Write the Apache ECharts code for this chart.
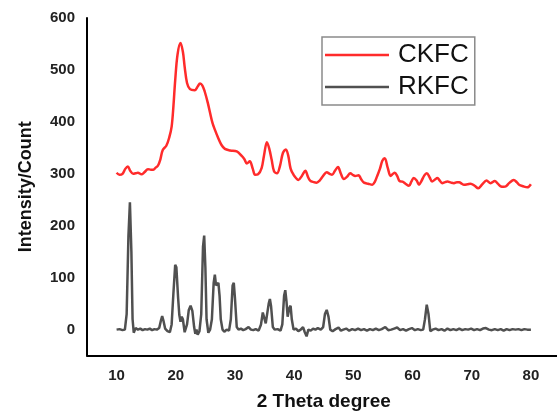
<!DOCTYPE html>
<html><head><meta charset="utf-8">
<script src="https://cdn.jsdelivr.net/npm/echarts@6/dist/echarts.min.js"></script>
<style>html,body{margin:0;padding:0;background:#fff}#c{width:557px;height:414px}</style>
</head><body><div id="c"></div>
<script>
const ckfcTheta = [10.0,10.5,11.0,11.5,11.9,12.3,12.8,13.2,13.6,14.2,14.7,15.3,15.8,16.2,16.6,17.0,17.4,17.8,18.4,18.9,19.3,19.6,19.9,20.3,20.8,21.2,21.5,21.9,22.4,23.2,23.7,24.1,24.5,24.9,25.4,25.8,26.2,26.6,27.2,27.7,28.3,29.2,30.3,31.1,31.6,32.0,32.5,33.0,33.4,33.9,34.5,34.9,35.4,35.8,36.2,36.6,37.1,37.6,38.1,38.6,39.0,39.4,39.9,40.3,40.7,41.3,41.9,42.3,42.7,43.3,43.8,44.3,44.9,45.5,46.0,46.4,46.9,47.4,47.9,48.4,48.9,49.5,49.9,50.3,50.9,51.3,51.8,52.5,53.2,53.6,54.0,54.5,54.9,55.3,55.8,56.3,56.7,57.0,57.4,57.8,58.3,58.8,59.4,59.8,60.2,60.7,61.1,61.5,62.0,62.4,62.9,63.3,63.8,64.2,64.6,65.0,65.5,65.9,66.5,67.0,67.5,67.9,68.3,68.7,69.3,69.8,70.5,71.1,71.8,72.5,73.2,73.9,74.4,74.9,75.4,75.8,76.4,77.1,77.6,78.0,78.7,79.4,80.0];
const ckfcCount = [302,298,300,310,314,306,300,301,302,299,303,309,308,308,312,316,328,346,354,370,391,430,480,530,552,535,506,475,463,461,468,474,470,458,437,417,398,385,368,356,348,345,343,335,328,320,324,310,298,299,311,335,361,348,327,305,301,315,340,347,335,310,298,292,288,296,306,295,287,284,283,287,296,303,300,298,306,313,300,290,294,301,298,296,297,290,283,281,279,284,295,310,325,330,312,296,300,302,296,286,285,281,277,285,292,287,279,286,297,301,293,285,289,292,287,282,284,285,283,282,284,284,281,279,280,281,277,272,280,287,282,286,281,276,275,276,283,288,284,279,276,274,280];

const rkfcTheta = [10.0,10.5,11.0,11.4,11.7,12.0,12.25,12.5,12.7,12.9,13.2,13.6,14.0,14.4,14.8,15.2,15.6,16.0,16.4,16.8,17.2,17.5,17.7,17.9,18.2,18.6,19.0,19.3,19.6,19.9,20.1,20.4,20.6,20.8,21.0,21.2,21.5,21.7,21.9,22.2,22.5,22.8,23.1,23.3,23.5,23.7,24.0,24.3,24.6,24.8,25.0,25.2,25.5,25.8,26.1,26.4,26.6,26.8,27.0,27.2,27.4,27.6,27.9,28.2,28.6,29.0,29.3,29.6,29.8,30.0,30.3,30.6,31.0,31.4,31.8,32.3,32.7,33.1,33.5,34.0,34.4,34.7,34.9,35.2,35.4,35.7,35.9,36.1,36.4,36.7,37.2,37.7,38.0,38.3,38.5,38.7,38.9,39.2,39.4,39.6,39.9,40.3,40.7,41.1,41.5,41.8,42.1,42.4,42.8,43.2,43.6,44.0,44.5,44.9,45.2,45.5,45.8,46.1,46.5,47.0,47.5,47.9,48.3,48.8,49.3,49.8,50.3,50.8,51.3,51.8,52.3,52.8,53.3,53.8,54.3,54.8,55.4,55.9,56.4,56.9,57.4,57.9,58.4,58.9,59.4,59.9,60.4,60.9,61.4,61.8,62.1,62.4,62.7,63.0,63.4,63.9,64.4,64.9,65.4,65.9,66.4,66.9,67.4,67.9,68.4,68.9,69.4,69.9,70.4,70.9,71.4,71.9,72.4,72.9,73.4,73.9,74.4,74.9,75.4,75.9,76.4,76.9,77.4,77.9,78.4,78.9,79.4,80.0];
const rkfcCount = [0,1,-1,0,30,180,245,150,20,-6,3,0,2,-1,1,0,2,-1,1,0,3,18,26,18,2,-3,-5,10,70,125,120,60,28,15,25,20,-5,-8,10,38,46,36,5,-8,0,-10,-3,30,160,181,120,20,-6,0,20,90,106,85,88,90,65,20,0,-4,0,-2,20,85,90,60,5,0,2,-1,1,5,0,-1,1,-2,10,33,35,12,10,50,59,45,5,0,1,-2,10,65,76,55,25,42,46,20,0,2,-3,0,5,-5,-13,0,-2,2,0,3,0,5,30,38,25,0,-3,1,4,-2,0,2,-2,1,-1,2,-1,1,-2,1,-1,2,-1,1,5,-1,0,2,4,-1,1,-2,1,3,-1,1,-1,0,20,48,30,-3,0,2,-1,1,-2,2,-1,1,-1,2,-1,1,0,2,-1,1,-1,2,3,0,-1,1,-1,1,-2,1,-1,1,0,1,-1,1,0,0];

const seriesNames = ['CKFC','RKFC'];
const xTickLabels = [10,20,30,40,50,60,70,80];
const yTickLabels = [0,100,200,300,400,500,600];

const pair = (xs, ys) => xs.map((x, i) => [x, ys[i]]);
const font = 'Liberation Sans, Arial, sans-serif';

const chart = echarts.init(document.getElementById('c'), null, {renderer: 'canvas'});
chart.setOption({
  backgroundColor: '#fff',
  animation: false,
  grid: {left: 87, top: 18, right: -3.5, bottom: 58.4, containLabel: false, outerBoundsMode: 'none'},
  legend: {
    orient: 'vertical', left: 322, top: 37,
    data: seriesNames,
    icon: 'rect', itemWidth: 64, itemHeight: 2.5, itemGap: 6,
    padding: [5, 6, 5, 3],
    borderColor: '#8a8a8a', borderWidth: 1.5, borderRadius: 0,
    textStyle: {fontFamily: font, fontSize: 26, color: '#111', lineHeight: 25, padding: [0, 0, 0, 4]}
  },
  xAxis: {
    type: 'value', min: 5, max: 85, interval: 5,
    name: '2 Theta degree', nameLocation: 'middle', nameGap: 37,
    nameTextStyle: {fontFamily: font, fontSize: 19, fontWeight: 'bold', color: '#111'},
    axisLine: {show: true, onZero: false, lineStyle: {color: '#000', width: 2}},
    axisTick: {show: false}, splitLine: {show: false},
    axisLabel: {margin: 13, fontFamily: font, fontSize: 15, fontWeight: 'bold', color: '#222',
      formatter: v => xTickLabels.includes(v) ? String(v) : ''}
  },
  yAxis: {
    type: 'value', min: -50, max: 600, interval: 50,
    name: 'Intensity/Count', nameLocation: 'middle', nameGap: 52, nameRotate: 90,
    nameTextStyle: {fontFamily: font, fontSize: 18, fontWeight: 'bold', color: '#111'},
    axisLine: {show: true, onZero: false, lineStyle: {color: '#000', width: 2}},
    axisTick: {show: false}, splitLine: {show: false},
    axisLabel: {margin: 12, fontFamily: font, fontSize: 15, fontWeight: 'bold', color: '#222',
      formatter: v => yTickLabels.includes(v) ? String(v) : ''}
  },
  series: [
    {name: seriesNames[0], type: 'line', data: pair(ckfcTheta, ckfcCount), showSymbol: false, smooth: 0.35,
      color: '#ff2b2b', lineStyle: {color: '#ff2b2b', width: 2.5}},
    {name: seriesNames[1], type: 'line', data: pair(rkfcTheta, rkfcCount), showSymbol: false, smooth: false,
      color: '#505050', lineStyle: {color: '#505050', width: 2.5}}
  ]
});
</script></body></html>
